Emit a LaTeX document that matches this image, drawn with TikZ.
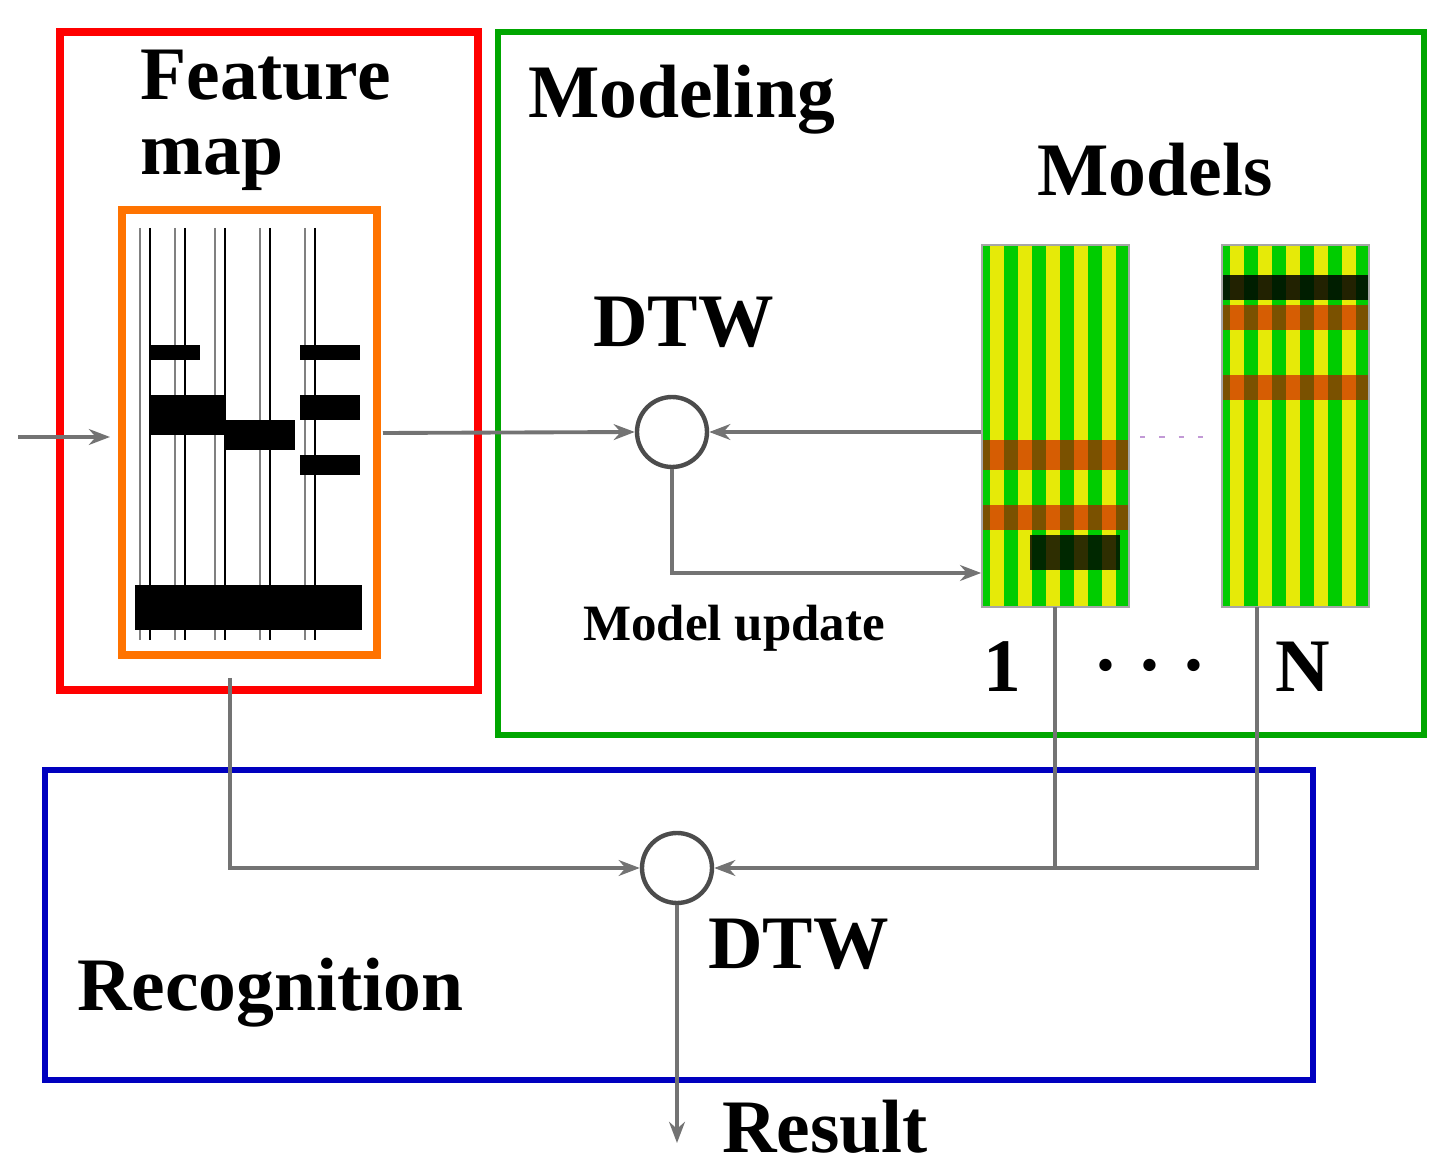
\documentclass[tikz,border=0pt]{standalone}
\usepackage{fontspec}
\usetikzlibrary{arrows.meta}
\setmainfont{Liberation Serif}
\begin{document}
\begin{tikzpicture}[x=0.02cm,y=-0.02cm,
 big/.style={font=\bfseries\fontsize{43}{46}\selectfont,inner sep=0},
 mid/.style={font=\bfseries\fontsize{29}{32}\selectfont,inner sep=0},
 con/.style={draw=gray!90!black,line width=2.2pt},
 arr/.style={con,-{Stealth[length=12pt,width=9pt]}},
 dtw/.style={circle,draw=gray!60!black,line width=2.5pt,minimum size=1.4cm,inner sep=0}]
\useasboundingbox (0,0) rectangle (1448,1168);
% boxes
\draw[red,line width=4.5pt] (60,32) rectangle (478,690);
\draw[green!65!black,line width=3pt] (498,32) rectangle (1424,735);
\draw[blue!75!black,line width=3pt] (45,770) rectangle (1313,1080);
% feature map
\fill[white] (135,225) rectangle (362,640);
\foreach \x in {140,175,215,260,305} {\draw[gray,line width=1.5pt] (\x,228)--(\x,640); \draw[black,line width=1pt] (\x+10,228)--(\x+10,640);}
\fill[black] (150,395) rectangle (225,435);
\fill[black] (225,420) rectangle (295,450);
\fill[black] (300,395) rectangle (360,420);
\fill[black] (150,345) rectangle (200,360);
\fill[black] (300,345) rectangle (360,360);
\fill[black] (300,455) rectangle (360,475);
\fill[black] (135,585) rectangle (362,630);
\draw[orange!90!red,line width=4.5pt] (122,210) rectangle (377,655);
\node (fm) at (250,432) [minimum width=5.1cm,minimum height=8.9cm] {};
% models
\foreach \xa/\nm in {982/m1,1222/mN}{
 \fill[green!80!black] (\xa,245) rectangle ++(147,362);
 \foreach \i in {0,1,2,3,4} \fill[yellow!90!green] (\xa+8+\i*28,245) rectangle ++(14,362);
}
\fill[red!80!black,opacity=0.6] (982,440) rectangle (1129,470);
\fill[red!80!black,opacity=0.6] (982,505) rectangle (1129,530);
\fill[black,opacity=0.8] (1030,535) rectangle (1120,570);
\fill[black,opacity=0.85] (1222,275) rectangle (1369,300);
\fill[red!80!black,opacity=0.6] (1222,305) rectangle (1369,330);
\fill[red!80!black,opacity=0.6] (1222,375) rectangle (1369,400);
\draw[gray!70,line width=1pt] (982,245) rectangle (1129,607);
\draw[gray!70,line width=1pt] (1222,245) rectangle (1369,607);
\node (m1) at (1055,426) [minimum width=2.94cm,minimum height=7.24cm,inner sep=0] {};
\node (mN) at (1295,426) [minimum width=2.94cm,minimum height=7.24cm,inner sep=0] {};
\draw[red!40!blue!40,line width=1.5pt,dash pattern=on 3pt off 8pt] (1140,437)--(1215,437);
% texts
\node[big,anchor=west] at (140,75) {Feature};
\node[big,anchor=west] at (140,165) {map};
\node[big,anchor=west] at (528,100) {Modeling};
\node[big,anchor=west] at (1037,170) {Models};
\node[big,anchor=west] at (593,322) {DTW};
\node[mid,anchor=west] at (583,628) {Model update};
\node[big] at (1002,667) {1};
\node[big] at (1150,665) {. . .};
\node[big] at (1303,667) {N};
\node[big,anchor=west] at (708,944) {DTW};
\node[big,anchor=west] at (77,993) {Recognition};
\node[big,anchor=west] at (722,1127) {Result};
% circles
\node[dtw] (d1) at (672,432) {};
\node[dtw] (d2) at (677,868) {};
\coordinate (in) at (18,437);
\coordinate (res) at (677,1143);
% connectors
\draw[arr] (in) -- (110,437);
\draw[arr] (383,433) -- (d1.west);
\draw[arr] (m1.west |- 0,432) -- (d1.east);
\draw[arr] (d1.south) |- (m1.west |- 0,573);
\draw[arr] (230,678) |- (d2.west);
\draw[arr] ([xshift=-0.76cm]mN.south) |- (d2.east);
\draw[con] (m1.south) -- (1055,868);
\draw[arr] (d2.south) -- (res);
\end{tikzpicture}
\end{document}
